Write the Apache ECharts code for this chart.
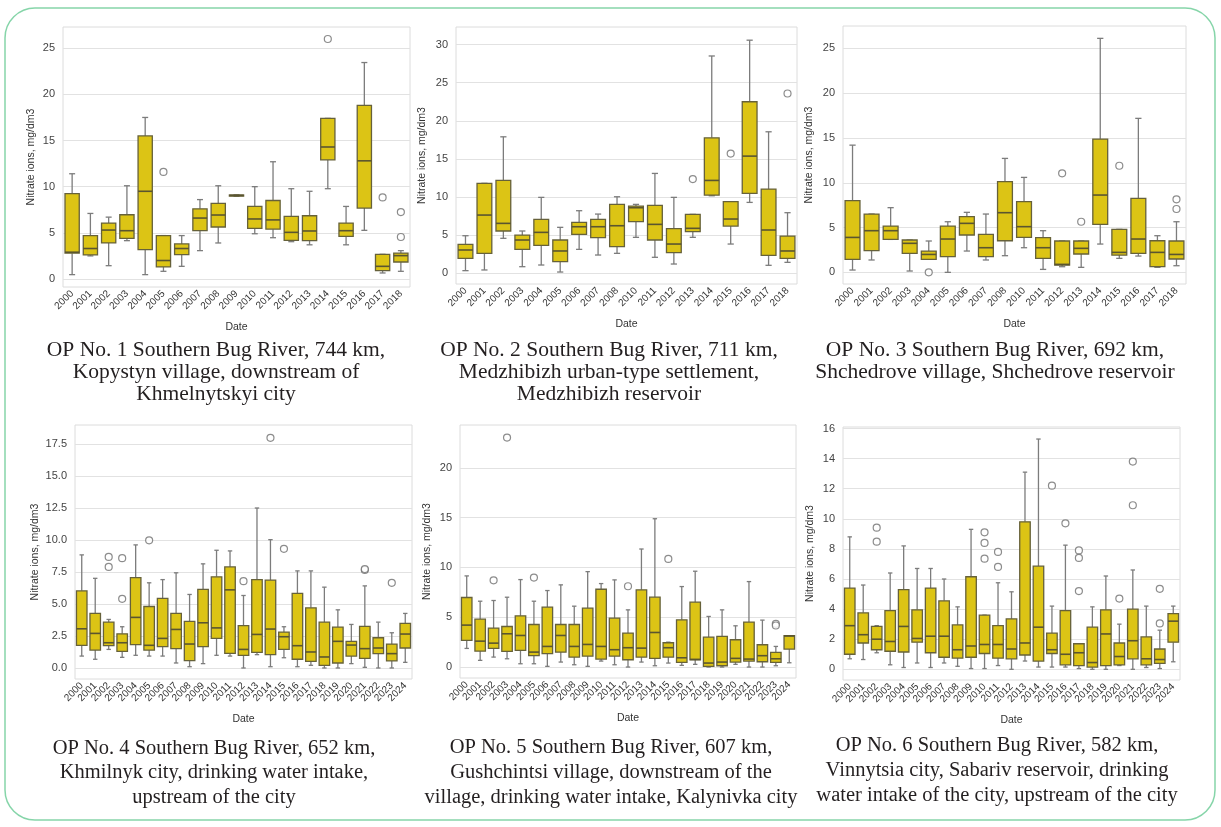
<!DOCTYPE html>
<html>
<head>
<meta charset="utf-8">
<title>Nitrate ions, Southern Bug River</title>
<script src="https://cdn.jsdelivr.net/npm/echarts@6/dist/echarts.min.js"></script>
<style>
  html, body { margin: 0; padding: 0; background: #ffffff; }
  #chart { width: 1221px; height: 827px; }
</style>
</head>
<body>
<div id="chart"></div>
<script>
// ---- Categories (years) ----
const years1 = ['2000','2001','2002','2003','2004','2005','2006','2007','2008','2009','2010','2011','2012','2013','2014','2015','2016','2017','2018'];
const years2 = ['2000','2001','2002','2003','2004','2005','2006','2007','2008','2010','2011','2012','2013','2014','2015','2016','2017','2018'];
const years3 = ['2000','2001','2002','2003','2004','2005','2006','2007','2008','2010','2011','2012','2013','2014','2015','2016','2017','2018'];
const years4 = ['2000','2001','2002','2003','2004','2005','2006','2007','2008','2009','2010','2011','2012','2013','2014','2015','2016','2017','2018','2019','2020','2021','2022','2023','2024'];
const years5 = years4.slice();
const years6 = years4.slice();

// ---- Box statistics: [lower whisker, Q1, median, Q3, upper whisker], mg/dm3 ----
const box1 = [
  [0.47, 2.8, 2.9, 9.24, 11.4], [2.5, 2.6, 3.3, 4.7, 7.1], [1.44, 3.9, 5.3, 6.06, 6.7],
  [4.15, 4.4, 5.23, 6.96, 10.1], [0.47, 3.17, 9.5, 15.5, 17.5], [0.83, 1.3, 2.0, 4.7, 4.7],
  [1.37, 2.63, 3.3, 3.8, 4.7], [3.07, 5.23, 6.6, 7.6, 8.6], [3.9, 5.63, 6.93, 8.2, 10.1],
  [8.95, 8.98, 9.05, 9.1, 9.12], [4.9, 5.48, 6.5, 7.86, 10.0], [4.47, 5.4, 6.4, 8.5, 12.7],
  [4.04, 4.18, 5.05, 6.78, 9.78], [3.7, 4.15, 5.2, 6.85, 9.5], [9.78, 12.9, 14.3, 17.4, 17.4],
  [3.7, 4.62, 5.23, 6.06, 7.86], [5.27, 7.68, 12.8, 18.8, 23.45], [0.65, 0.9, 1.37, 2.67, 2.67],
  [0.83, 1.84, 2.53, 2.81, 3.07]
];
const box2 = [
  [0.35, 1.97, 3.06, 3.8, 4.93], [0.44, 2.62, 7.64, 11.8, 11.8], [4.59, 5.55, 6.55, 12.2, 17.9],
  [0.87, 3.14, 4.37, 5.02, 5.55], [1.09, 3.67, 5.37, 7.07, 9.96], [0.17, 1.53, 2.93, 4.37, 6.03],
  [3.14, 5.11, 6.11, 6.68, 8.21], [2.4, 4.67, 6.11, 7.07, 7.77], [2.62, 3.49, 6.24, 9.04, 10.04],
  [4.72, 6.77, 8.6, 8.82, 9.04], [2.1, 4.37, 6.42, 8.9, 13.1], [1.22, 2.71, 3.84, 5.85, 9.96],
  [4.72, 5.46, 5.9, 7.73, 7.73], [10.17, 10.26, 12.18, 17.77, 28.5], [3.84, 6.2, 7.12, 9.39, 9.39],
  [9.3, 10.48, 15.37, 22.5, 30.57], [1.05, 2.36, 5.68, 11.05, 18.56], [1.44, 1.97, 2.93, 4.89, 7.95]
];
const box3 = [
  [0.26, 1.45, 3.9, 8.0, 14.2], [1.38, 2.42, 4.65, 6.51, 6.51], [3.68, 3.68, 4.65, 5.17, 7.22],
  [0.15, 2.12, 3.24, 3.61, 3.61], [1.45, 1.45, 2.0, 2.38, 3.5], [0.0, 1.75, 3.72, 5.17, 5.65],
  [2.38, 4.17, 5.47, 6.21, 6.7], [1.38, 1.75, 2.75, 4.24, 6.51], [1.86, 3.53, 6.66, 10.12, 12.72],
  [2.75, 3.9, 5.1, 7.89, 10.6], [0.33, 1.56, 2.75, 3.87, 4.65], [0.63, 0.82, 0.89, 3.5, 3.5],
  [0.56, 2.05, 2.68, 3.5, 3.5], [3.16, 5.36, 8.63, 14.88, 26.12], [1.56, 1.93, 2.23, 4.8, 4.8],
  [1.82, 2.12, 3.72, 8.26, 17.19], [0.56, 0.63, 2.23, 3.53, 4.09], [0.74, 1.49, 2.0, 3.5, 5.65]
];
const box4 = [
  [0.93, 1.77, 3.06, 6.02, 8.83], [0.68, 1.4, 2.7, 4.26, 7.0], [1.45, 1.74, 1.97, 3.58, 3.79],
  [0.83, 1.3, 1.97, 2.67, 3.22], [0.99, 1.82, 3.95, 7.06, 9.61], [0.93, 1.4, 1.77, 4.8, 6.65],
  [0.93, 1.66, 2.31, 5.43, 6.9], [0.39, 1.51, 3.01, 4.26, 7.43], [0.1, 0.57, 1.87, 3.64, 5.74],
  [0.34, 1.66, 3.53, 6.13, 8.13], [0.99, 2.31, 3.13, 7.12, 9.19], [0.93, 1.14, 6.1, 7.89, 9.14],
  [0.0, 0.99, 1.45, 3.3, 5.66], [1.04, 1.22, 2.62, 6.9, 12.49], [0.1, 1.04, 3.04, 6.86, 10.02],
  [0.8, 1.45, 2.44, 2.8, 3.22], [0.1, 0.68, 1.74, 5.82, 7.58], [0.21, 0.52, 1.25, 4.7, 7.58],
  [0.0, 0.21, 0.86, 3.58, 6.31], [0.0, 0.39, 2.08, 3.19, 4.54], [0.34, 0.93, 1.79, 2.08, 3.4],
  [0.05, 0.75, 1.51, 3.25, 6.41], [0.0, 1.12, 1.56, 2.36, 3.58], [0.0, 0.55, 1.12, 1.87, 2.75],
  [0.44, 1.56, 2.65, 3.48, 4.26]
];
const box5 = [
  [1.87, 2.67, 4.21, 6.98, 9.15], [0.67, 1.6, 2.6, 4.81, 6.61], [1.0, 1.87, 2.4, 3.91, 6.68],
  [0.83, 1.57, 3.34, 4.07, 7.01], [0.33, 1.67, 3.17, 5.14, 8.78], [0.33, 1.14, 1.5, 4.27, 6.61],
  [0.07, 1.34, 2.07, 6.01, 7.68], [0.5, 1.5, 3.17, 4.27, 8.25], [0.23, 1.0, 2.07, 4.27, 6.11],
  [0.07, 1.1, 2.27, 5.91, 9.58], [0.6, 0.8, 2.07, 7.81, 8.38], [0.23, 1.1, 1.74, 4.91, 8.75],
  [0.0, 0.73, 1.94, 3.41, 5.74], [0.5, 1.0, 1.9, 7.75, 11.85], [0.13, 0.87, 3.47, 7.01, 14.89],
  [0.4, 1.0, 1.94, 2.44, 2.5], [0.17, 0.47, 0.93, 4.74, 8.08], [0.27, 0.73, 0.77, 6.51, 9.62],
  [0.0, 0.07, 0.4, 3.0, 5.08], [0.0, 0.13, 0.5, 3.07, 5.74], [0.27, 0.5, 0.87, 2.74, 4.14],
  [0.0, 0.6, 0.8, 4.51, 8.58], [0.0, 0.53, 1.14, 2.24, 4.71], [0.13, 0.47, 0.83, 1.47, 2.07],
  [0.43, 1.8, 3.12, 3.14, 3.14]
];
const box6 = [
  [0.7, 1.0, 2.9, 5.4, 8.8], [0.65, 1.75, 2.3, 3.75, 5.6], [1.1, 1.3, 2.0, 2.85, 2.9],
  [0.3, 1.2, 1.85, 3.9, 6.4], [0.12, 1.15, 2.85, 5.3, 8.2], [0.42, 1.8, 2.05, 3.95, 6.7],
  [0.12, 1.1, 2.2, 5.4, 6.7], [0.42, 0.8, 2.2, 4.55, 6.0], [0.2, 0.75, 1.3, 2.95, 4.15],
  [0.05, 0.8, 1.55, 6.15, 9.3], [0.05, 1.05, 1.65, 3.6, 3.6], [0.25, 0.75, 1.65, 2.9, 5.75],
  [0.0, 0.7, 1.35, 3.35, 5.15], [0.55, 0.95, 1.75, 9.8, 13.1], [0.15, 0.55, 2.8, 6.85, 15.3],
  [0.15, 1.05, 1.3, 2.4, 4.2], [0.15, 0.3, 1.0, 3.9, 8.25], [0.05, 0.25, 1.1, 1.7, 1.7],
  [0.0, 0.15, 0.45, 2.8, 4.15], [0.0, 0.25, 2.35, 3.95, 6.2], [0.25, 0.3, 0.85, 1.75, 3.0],
  [0.0, 0.7, 1.9, 4.0, 6.6], [0.12, 0.3, 0.7, 2.15, 4.2], [0.05, 0.4, 0.65, 1.35, 2.6],
  [0.5, 1.8, 3.2, 3.7, 4.2]
];

// ---- Outliers: [year, value] ----
const out1 = [['2005', 11.6], ['2014', 26.0], ['2017', 8.84], ['2018', 7.25], ['2018', 4.55]];
const out2 = [['2013', 12.36], ['2015', 15.7], ['2018', 23.58]];
const out3 = [['2004', 0.0], ['2012', 11.05], ['2013', 5.65], ['2015', 11.9], ['2018', 8.15], ['2018', 7.07]];
const out4 = [['2002', 8.67], ['2002', 7.89], ['2003', 8.57], ['2003', 5.4], ['2005', 9.97],
              ['2012', 6.78], ['2014', 17.97], ['2015', 9.3], ['2021', 7.65], ['2021', 7.72], ['2023', 6.65]];
const out5 = [['2002', 8.71], ['2003', 23.04], ['2005', 8.98], ['2012', 8.11], ['2015', 10.85],
              ['2023', 4.34], ['2023', 4.17]];
const out6 = [['2002', 9.41], ['2002', 8.48], ['2010', 9.1], ['2010', 8.4], ['2010', 7.35],
              ['2011', 7.8], ['2011', 6.8], ['2015', 12.2], ['2016', 9.7], ['2017', 7.9],
              ['2017', 7.4], ['2017', 5.2], ['2020', 4.7], ['2021', 13.8], ['2021', 10.9],
              ['2023', 5.35], ['2023', 3.05]];

// ---- Y tick values ----
const ticks1 = [0, 5, 10, 15, 20, 25];
const ticks2 = [0, 5, 10, 15, 20, 25, 30];
const ticks3 = [0, 5, 10, 15, 20, 25];
const ticks4 = [0, 2.5, 5, 7.5, 10, 12.5, 15, 17.5];
const ticks5 = [0, 5, 10, 15, 20];
const ticks6 = [0, 2, 4, 6, 8, 10, 12, 14, 16];

// ---- Captions ----
const captions = [
  ['OP No. 1 Southern Bug River, 744 km,', 'Kopystyn village, downstream of', 'Khmelnytskyi city'],
  ['OP No. 2 Southern Bug River, 711 km,', 'Medzhibizh urban-type settlement,', 'Medzhibizh reservoir'],
  ['OP No. 3 Southern Bug River, 692 km,', 'Shchedrove village, Shchedrove reservoir'],
  ['OP No. 4 Southern Bug River, 652 km,', 'Khmilnyk city, drinking water intake,', 'upstream of the city'],
  ['OP No. 5 Southern Bug River, 607 km,', 'Gushchintsi village, downstream of the', 'village, drinking water intake, Kalynivka city'],
  ['OP No. 6 Southern Bug River, 582 km,', 'Vinnytsia city, Sabariv reservoir, drinking', 'water intake of the city, upstream of the city']
];

// ---- Panel layout ----
const panels = [
  { years: years1, box: box1, out: out1, ticks: ticks1, dec: 0, min: -0.87, max: 27.3, grid: { left: 63, top: 27, width: 347, height: 260 }, gap: 26, cap: { x: 216, y: [339, 361, 383], size: 21.5 } },
  { years: years2, box: box2, out: out2, ticks: ticks2, dec: 0, min: -1.4, max: 32.3, grid: { left: 456, top: 27, width: 341, height: 257 }, gap: 28, cap: { x: 609, y: [339, 361, 383], size: 21.5 } },
  { years: years3, box: box3, out: out3, ticks: ticks3, dec: 0, min: -1.3, max: 27.5, grid: { left: 843, top: 26, width: 343, height: 258 }, gap: 28, cap: { x: 995, y: [339, 361], size: 21.5 } },
  { years: years4, box: box4, out: out4, ticks: ticks4, dec: 1, min: -0.86, max: 18.97, grid: { left: 75, top: 425, width: 337, height: 254 }, gap: 34, cap: { x: 214, y: [738, 762, 787], size: 20.5 } },
  { years: years5, box: box5, out: out5, ticks: ticks5, dec: 0, min: -1.1, max: 24.3, grid: { left: 460, top: 425, width: 336, height: 253 }, gap: 27, cap: { x: 611, y: [737, 762, 787], size: 20.5 } },
  { years: years6, box: box6, out: out6, ticks: ticks6, dec: 0, min: -0.71, max: 16.1, grid: { left: 843, top: 427, width: 337, height: 253 }, gap: 27, cap: { x: 997, y: [735, 760, 785], size: 20.5 } }
];

const BOX_FILL = '#dcc415';
const BOX_EDGE = '#66613a';
const MEDIAN = '#5a5530';
const WHISKER = '#7c7c7c';
const TEXT = '#333333';

// Box-and-whisker glyph with short caps, drawn from the axis scales
function renderBox(params, api) {
  const idx = api.value(0);
  const pLow = api.coord([idx, api.value(1)]);
  const pQ1 = api.coord([idx, api.value(2)]);
  const pMed = api.coord([idx, api.value(3)]);
  const pQ3 = api.coord([idx, api.value(4)]);
  const pHigh = api.coord([idx, api.value(5)]);
  const band = api.size([1, 0])[0];
  const w = band * 0.78;
  const cw = w * 0.42;
  const cx = pQ1[0];
  const lineStyle = { stroke: WHISKER, lineWidth: 1.3 };
  return {
    type: 'group',
    children: [
      { type: 'line', shape: { x1: cx, y1: pLow[1], x2: cx, y2: pQ1[1] }, style: lineStyle },
      { type: 'line', shape: { x1: cx, y1: pQ3[1], x2: cx, y2: pHigh[1] }, style: lineStyle },
      { type: 'line', shape: { x1: cx - cw / 2, y1: pLow[1], x2: cx + cw / 2, y2: pLow[1] }, style: lineStyle },
      { type: 'line', shape: { x1: cx - cw / 2, y1: pHigh[1], x2: cx + cw / 2, y2: pHigh[1] }, style: lineStyle },
      { type: 'rect', shape: { x: cx - w / 2, y: pQ3[1], width: w, height: Math.max(pQ1[1] - pQ3[1], 1) },
        style: { fill: BOX_FILL, stroke: BOX_EDGE, lineWidth: 1.3 } },
      { type: 'line', shape: { x1: cx - w / 2, y1: pMed[1], x2: cx + w / 2, y2: pMed[1] },
        style: { stroke: MEDIAN, lineWidth: 1.6 } }
    ]
  };
}

const grids = [], xAxes = [], yAxes = [], series = [], graphics = [];

panels.forEach((p, i) => {
  grids.push(Object.assign({ show: true, borderColor: '#dcdcdc', borderWidth: 1, backgroundColor: '#ffffff' }, p.grid));

  xAxes.push({
    gridIndex: i, type: 'category', data: p.years,
    name: 'Date', nameLocation: 'middle', nameGap: 35,
    nameTextStyle: { fontFamily: 'Liberation Sans', fontSize: 10.5, color: TEXT },
    axisLine: { show: false }, axisTick: { show: false },
    axisLabel: { interval: 0, rotate: 45, fontFamily: 'Liberation Sans', fontSize: 10, color: TEXT, margin: 5 },
    splitLine: { show: false }
  });

  yAxes.push({
    gridIndex: i, type: 'value', min: p.min, max: p.max,
    name: 'Nitrate ions, mg/dm3', nameLocation: 'middle', nameGap: p.gap,
    nameTextStyle: { fontFamily: 'Liberation Sans', fontSize: 10.5, color: TEXT },
    axisLine: { show: false },
    axisTick: { show: false, customValues: p.ticks },
    axisLabel: {
      customValues: p.ticks, fontFamily: 'Liberation Sans', fontSize: 11, color: '#444', margin: 8,
      formatter: v => Number(v).toFixed(p.dec)
    },
    splitLine: { show: true, lineStyle: { color: '#e2e2e2', width: 1 } }
  });

  series.push({
    type: 'custom', xAxisIndex: i, yAxisIndex: i,
    data: p.box.map((b, j) => [j].concat(b)),
    encode: { x: 0, y: [1, 2, 3, 4, 5] },
    renderItem: renderBox,
    silent: true
  });

  series.push({
    type: 'scatter', xAxisIndex: i, yAxisIndex: i,
    data: p.out,
    symbol: 'circle', symbolSize: 7,
    itemStyle: { color: '#ffffff', borderColor: '#6f6f6f', borderWidth: 1.2 },
    silent: true
  });

  captions[i].forEach((line, k) => {
    graphics.push({
      type: 'text', x: p.cap.x, y: p.cap.y[k],
      style: {
        text: line, textAlign: 'center', textVerticalAlign: 'top',
        font: p.cap.size + 'px "Liberation Serif"', fill: '#231f20'
      },
      silent: true
    });
  });
});

// rounded frame around the whole figure
graphics.unshift({
  type: 'rect', shape: { x: 5, y: 8, width: 1210, height: 812, r: 30 },
  style: { fill: 'none', stroke: '#86d5a9', lineWidth: 1.5 },
  z: 100, silent: true
});

const chart = echarts.init(document.getElementById('chart'), null, { renderer: 'canvas' });
chart.setOption({
  animation: false,
  backgroundColor: '#ffffff',
  grid: grids,
  xAxis: xAxes,
  yAxis: yAxes,
  series: series,
  graphic: graphics
});
</script>
</body>
</html>
